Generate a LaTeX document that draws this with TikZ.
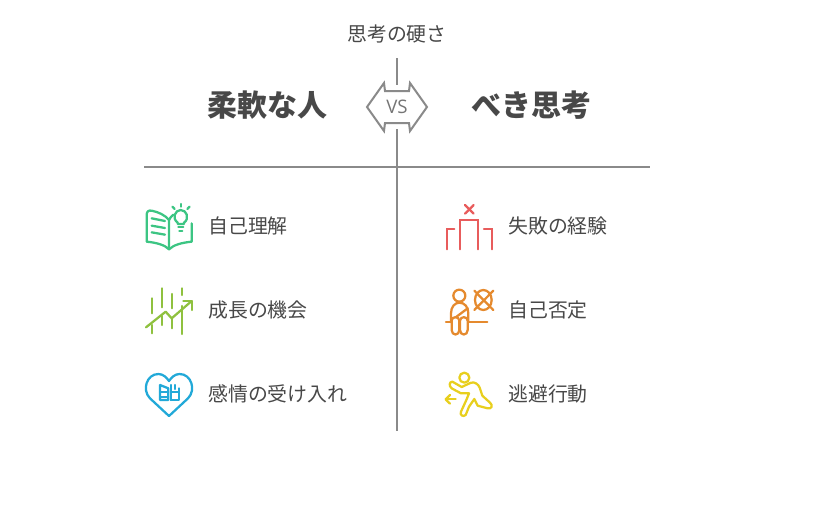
\documentclass[tikz,border=0pt]{standalone}
\usepackage{fontspec}
\setmainfont{Noto Sans CJK JP}
\newfontfamily\vsfont{Open Sans}
\definecolor{txt}{HTML}{484848}
\definecolor{rule}{HTML}{8A8A8A}
\definecolor{cgreen}{HTML}{3CC583}
\definecolor{clime}{HTML}{8FC13F}
\definecolor{cblue}{HTML}{22A9D8}
\definecolor{cred}{HTML}{E85C5C}
\definecolor{corange}{HTML}{E58A2E}
\definecolor{cyellow}{HTML}{E8CF1E}
\tikzset{
  label/.style={text=txt,font=\fontsize{14.9}{16}\selectfont,anchor=west,inner sep=0pt},
  head/.style={text=txt,font=\fontsize{22.5}{24}\selectfont\bfseries,inner sep=0pt},
  axis/.style={draw=rule,line width=1.5pt},
  icon/.style={line width=1.7pt,line cap=round,line join=round}
}
\begin{document}
\begin{tikzpicture}[x=0.75pt,y=-0.75pt]
    \useasboundingbox (0,0) rectangle (818,504);
    \node[label,anchor=center] (n0) at (397,34) {思考の硬さ};
    \node[head] (n1) at (267,105) {柔軟な人};
    \node[head] (n2) at (531,105) {べき思考};
    \node[text=rule!85!black,font=\fontsize{14}{16}\selectfont\vsfont,inner sep=0pt] (vs) at (397,107) {VS};
    \coordinate (t0) at (397,58);
    \coordinate (t1) at (397,85);
    \coordinate (b0) at (397,129);
    \coordinate (b1) at (397,431);
    \coordinate (h0) at (144,167);
    \coordinate (h1) at (650,167);
    \draw[axis] (t0) -- (t1);
    \draw[axis] (b0) -- (b1);
    \draw[axis] (h0) -- (h1);
    \draw[axis,line join=miter] (367,107) -- (384,83) -- (385,91) -- (409,91) -- (410,83) -- (427,107) -- (410,131) -- (409,123) -- (385,123) -- (384,131) -- cycle;
    \node[label] (l1) at (208,226) {自己理解};
    \node[label] (l2) at (208,310) {成長の機会};
    \node[label] (l3) at (208,394) {感情の受け入れ};
    \node[label] (r1) at (508,226) {失敗の経験};
    \node[label] (r2) at (508,310) {自己否定};
    \node[label] (r3) at (508,394) {逃避行動};
    \begin{scope}[shift={(130,190)},x=0.25pt,y=-0.25pt,icon,draw=cgreen]
        \draw (117,178) .. controls (105,165) and (80,158) .. (50,155) -- (50,75) .. controls (50,65) and (55,60) .. (65,62) .. controls (85,66) and (105,75) .. (117,90) -- (117,178);
        \draw (117,178) .. controls (130,165) and (155,158) .. (185,155) -- (185,100);
        \draw (117,90) .. controls (120,83) and (125,78) .. (130,74);
        \draw (65,85) -- (105,93);
        \draw (65,107) -- (105,114);
        \draw (65,127) -- (105,134);
        \draw (143,98) .. controls (125,85) and (135,60) .. (152,60) .. controls (170,60) and (180,85) .. (162,98) -- (162,102) -- (143,102) -- cycle;
        \draw (145,112) -- (160,112);
        \draw (148,122) -- (157,122);
        \draw (152,42) -- (152,50);
        \draw (127,50) -- (134,57);
        \draw (179,50) -- (172,57);
    \end{scope}
    \begin{scope}[shift={(130,280)},x=0.25pt,y=-0.25pt,icon,draw=clime]
        \draw (65,55) -- (65,100);
        \draw (65,135) -- (65,160);
        \draw (95,25) -- (95,82);
        \draw (95,108) -- (95,135);
        \draw (125,42) -- (125,85);
        \draw (125,118) -- (125,145);
        \draw (155,25) -- (155,45);
        \draw (155,78) -- (155,162);
        \draw (48,142) -- (107,95) -- (125,115) -- (185,63);
        \draw (160,63) -- (185,63) -- (185,90);
    \end{scope}
    \begin{scope}[shift={(130,365)},x=0.25pt,y=-0.25pt,icon,draw=cblue]
        \draw (117,153) -- (60,100) .. controls (35,75) and (50,27) .. (85,27) .. controls (100,27) and (110,38) .. (117,48) .. controls (124,38) and (134,27) .. (149,27) .. controls (184,27) and (199,75) .. (174,100) -- cycle;
        \draw (90,60) -- (90,105) -- (115,105) -- (115,70) -- (90,60);
        \draw (90,82) -- (115,82);
        \draw (90,95) -- (115,95);
        \draw (122,105) -- (147,105) -- (147,70);
        \draw (122,105) -- (122,60);
        \draw (122,82) -- (147,82);
        \draw (135,60) -- (135,72);
    \end{scope}
    \begin{scope}[shift={(435,195)},x=0.25pt,y=-0.25pt,icon,draw=cred,line join=miter]
        \draw (90,30) -- (116,56);
        \draw (116,30) -- (90,56);
        \draw (75,163) -- (75,75) -- (130,75) -- (130,163);
        \draw (35,163) -- (35,102) -- (58,102);
        \draw (170,163) -- (170,102) -- (147,102);
    \end{scope}
    \begin{scope}[shift={(435,280)},x=0.25pt,y=-0.25pt,icon,draw=corange]
        \draw (73,47) circle (18);
        \draw (33,127) -- (48,127);
        \draw (100,127) -- (157,127);
        \draw (48,127) -- (48,100) .. controls (48,80) and (60,68) .. (73,68) .. controls (88,68) and (100,80) .. (100,100) -- (100,127);
        \draw (62,112) -- (98,85);
        \draw (50,150) -- (50,122) .. controls (50,108) and (73,108) .. (73,122) -- (73,150) .. controls (73,168) and (50,168) .. (50,150) -- cycle;
        \draw (75,150) -- (75,122) .. controls (75,108) and (98,108) .. (98,122) -- (98,150) .. controls (98,168) and (75,168) .. (75,150) -- cycle;
        \draw (145,60) ellipse (25 and 30);
        \draw (118,32) -- (175,90);
        \draw (175,32) -- (118,90);
    \end{scope}
    \begin{scope}[shift={(435,365)},x=0.25pt,y=-0.25pt,icon,draw=cyellow]
        \draw (88,38) circle (15);
        \draw (32,103) -- (62,103);
        \draw (45,90) -- (32,103) -- (45,116);
        \draw (52,50) -- (80,66) -- (108,53) .. controls (120,50) and (130,58) .. (134,68) -- (142,92) -- (165,113) .. controls (175,122) and (170,132) .. (158,130) -- (128,122) -- (118,102) -- (102,125) -- (92,150) .. controls (85,157) and (73,150) .. (78,140) -- (94,105) -- (102,85) -- (78,85) -- (50,70) .. controls (41,63) and (43,50) .. (52,50) -- cycle;
    \end{scope}
\end{tikzpicture}
\end{document}
